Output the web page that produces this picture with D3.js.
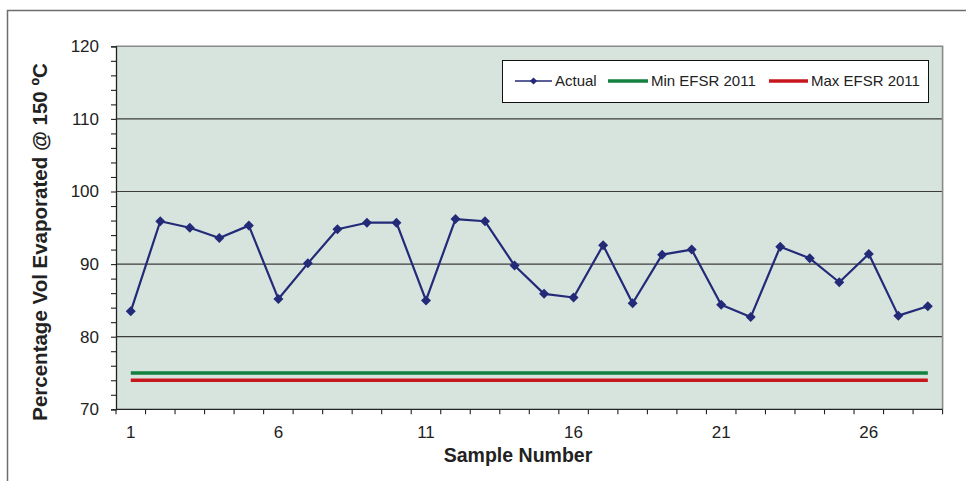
<!DOCTYPE html>
<html>
<head>
<meta charset="utf-8">
<script src="https://cdn.jsdelivr.net/npm/d3@7"></script>
<style>
  html, body { margin: 0; padding: 0; background: #fff; }
  svg { display: block; font-family: "Liberation Sans", Arial, sans-serif; }
</style>
</head>
<body>
<svg id="chart" width="966" height="481"></svg>
<script>
// Sample numbers 1..28
const samples = d3.range(1, 29);
// Percentage volume evaporated at 150 °C for each sample
const actual = [83.5, 95.9, 95.0, 93.6, 95.3, 85.2, 90.1, 94.8, 95.7, 95.7,
                85.0, 96.2, 95.9, 89.8, 85.9, 85.4, 92.6, 84.6, 91.3, 92.0,
                84.4, 82.7, 92.4, 90.8, 87.5, 91.4, 82.9, 84.2];
// Specification limits (EFSR 2011)
const minEFSR = samples.map(() => 75);
const maxEFSR = samples.map(() => 74);
const xTickLabels = [1, 6, 11, 16, 21, 26];
const yTicks = [70, 80, 90, 100, 110, 120];

const series = [
  { name: "Actual", values: actual, color: "#232a78", width: 2.2, marker: true },
  { name: "Min EFSR 2011", values: minEFSR, color: "#12803e", width: 3.6, marker: false },
  { name: "Max EFSR 2011", values: maxEFSR, color: "#c8161f", width: 3.6, marker: false }
];

const svg = d3.select("#chart");
const plot = { left: 116, right: 942.6, top: 46.3, bottom: 409.3 };

// outer chart frame
svg.append("rect")
  .attr("x", 7.5).attr("y", 10.5)
  .attr("width", 980).attr("height", 500)
  .attr("fill", "#fff").attr("stroke", "#6e6e6e").attr("stroke-width", 1.5);

const x = d3.scaleBand().domain(samples).range([plot.left, plot.right]).padding(0);
const y = d3.scaleLinear().domain([70, 120]).range([plot.bottom, plot.top]);
const cx = d => x(d) + x.bandwidth() / 2;

// plot area background
svg.append("rect")
  .attr("x", plot.left).attr("y", plot.top)
  .attr("width", plot.right - plot.left).attr("height", plot.bottom - plot.top)
  .attr("fill", "#d7e4dd");

// horizontal gridlines
svg.append("g").selectAll("line")
  .data(yTicks.filter(v => v > 70 && v < 120))
  .join("line")
  .attr("x1", plot.left).attr("x2", plot.right)
  .attr("y1", d => y(d)).attr("y2", d => y(d))
  .attr("stroke", "#3c3c3c").attr("stroke-width", 1.2);

// plot area border (top / right)
svg.append("path")
  .attr("d", `M${plot.left},${plot.top}H${plot.right}V${plot.bottom}`)
  .attr("fill", "none").attr("stroke", "#8a8a8a").attr("stroke-width", 1.6);

// y axis with minor ticks every 2 units
const yAxis = d3.axisLeft(y)
  .tickValues(d3.range(70, 121, 2))
  .tickSize(5).tickPadding(12)
  .tickFormat(d => (d % 10 === 0 ? d : ""));
const gy = svg.append("g").attr("transform", `translate(${plot.left},0)`).call(yAxis);
gy.select(".domain").attr("stroke", "#222").attr("stroke-width", 1.3);
gy.selectAll(".tick line").attr("stroke", "#222").attr("stroke-width", 1.1);
gy.selectAll(".tick text").attr("font-size", 17).attr("fill", "#222")
  .attr("font-family", "'Liberation Sans', Arial, sans-serif");

// x axis: ticks at category boundaries, labels at category centres
const gx = svg.append("g").attr("transform", `translate(0,${plot.bottom})`);
gx.append("line")
  .attr("x1", plot.left).attr("x2", plot.right)
  .attr("stroke", "#222").attr("stroke-width", 1.3);
const boundaries = samples.map(d => x(d)).concat([plot.right]);
gx.selectAll("line.tk").data(boundaries).join("line").attr("class", "tk")
  .attr("x1", d => d).attr("x2", d => d).attr("y1", 0).attr("y2", 5)
  .attr("stroke", "#222").attr("stroke-width", 1.1);
gx.selectAll("text").data(xTickLabels).join("text")
  .attr("x", d => cx(d)).attr("y", 29)
  .attr("text-anchor", "middle").attr("font-size", 17).attr("fill", "#222")
  .text(d => d);

// series lines
const line = d3.line().x((v, i) => cx(samples[i])).y(v => y(v));
series.slice().reverse().forEach(s => {
  svg.append("path")
    .datum(s.values)
    .attr("d", line)
    .attr("fill", "none")
    .attr("stroke", s.color)
    .attr("stroke-width", s.width)
    .attr("stroke-linejoin", "round");
});

// diamond markers for the measured values
const diamond = d3.symbol().type(d3.symbolSquare).size(50);
svg.append("g").selectAll("path")
  .data(actual)
  .join("path")
  .attr("d", diamond)
  .attr("transform", (v, i) => `translate(${cx(samples[i])},${y(v)}) rotate(45)`)
  .attr("fill", "#232a78");

// legend
const lg = svg.append("g");
lg.append("rect")
  .attr("x", 502.5).attr("y", 60.5).attr("width", 426).attr("height", 42)
  .attr("fill", "#fff").attr("stroke", "#111").attr("stroke-width", 1);
const legendItems = [
  { s: series[0], x1: 515, x2: 552 },
  { s: series[1], x1: 608, x2: 648 },
  { s: series[2], x1: 769, x2: 808 }
];
legendItems.forEach(it => {
  lg.append("line")
    .attr("x1", it.x1).attr("x2", it.x2).attr("y1", 81).attr("y2", 81)
    .attr("stroke", it.s.color).attr("stroke-width", it.s.marker ? 1.6 : 3.4);
  if (it.s.marker) {
    lg.append("path")
      .attr("d", d3.symbol().type(d3.symbolSquare).size(26)())
      .attr("transform", `translate(${(it.x1 + it.x2) / 2},81) rotate(45)`)
      .attr("fill", it.s.color);
  }
  lg.append("text")
    .attr("x", it.x2 + 3).attr("y", 86.3)
    .attr("font-size", 15).attr("fill", "#222")
    .text(it.s.name);
});

// axis titles
svg.append("text")
  .attr("x", 518).attr("y", 462)
  .attr("text-anchor", "middle").attr("font-size", 19.5).attr("font-weight", "bold")
  .attr("fill", "#222")
  .text("Sample Number");
svg.append("text")
  .attr("transform", "translate(47,242) rotate(-90)")
  .attr("text-anchor", "middle").attr("font-size", 20.5).attr("font-weight", "bold")
  .attr("fill", "#222")
  .text("Percentage Vol Evaporated @ 150 ºC");
</script>
</body>
</html>
